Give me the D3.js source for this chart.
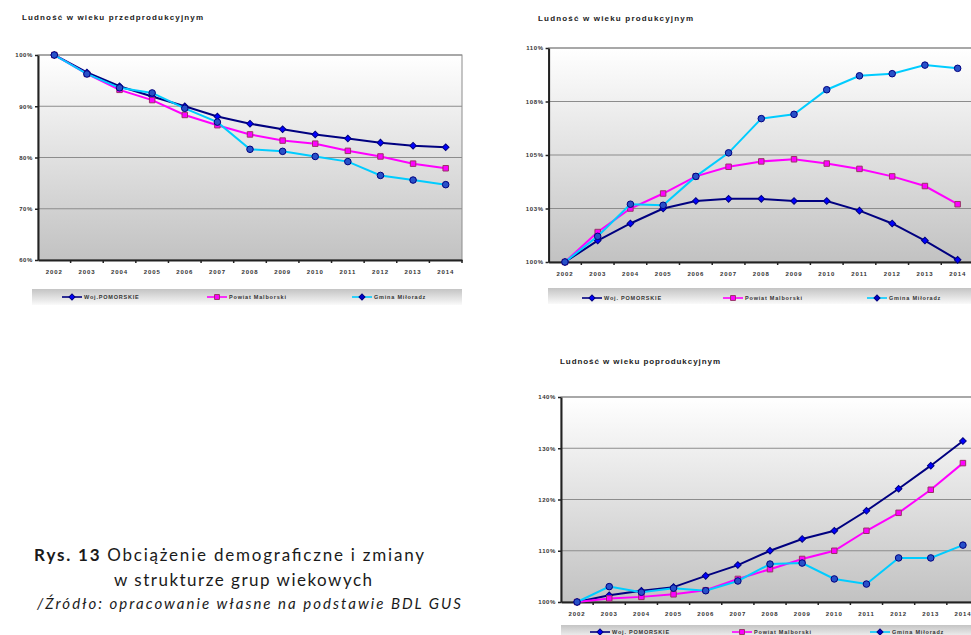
<!DOCTYPE html>
<html>
<head>
<meta charset="utf-8">
<script src="https://cdn.jsdelivr.net/npm/d3@7"></script>
<style>
  body { margin: 0; background: #fff; }
  svg { display: block; }
</style>
</head>
<body>
<svg></svg>
<script>
// categories
const years = ["2002", "2003", "2004", "2005", "2006", "2007", "2008", "2009", "2010", "2011", "2012", "2013", "2014"];
const legendNamesA = ["Woj.POMORSKIE", "Powiat Malborski", "Gmina Miłoradz"];
const legendNamesB = ["Woj. POMORSKIE", "Powiat Malborski", "Gmina Miłoradz"];

// Ludność w wieku przedprodukcyjnym (2002 = 100%)
const przedWoj = [100, 96.6, 93.9, 91.9, 90.0, 88.0, 86.6, 85.5, 84.5, 83.7, 82.9, 82.3, 82.0];
const przedPowiat = [100, 96.3, 93.2, 91.2, 88.3, 86.3, 84.5, 83.3, 82.7, 81.3, 80.2, 78.8, 77.9];
const przedGmina = [100, 96.3, 93.6, 92.6, 89.6, 86.9, 81.6, 81.2, 80.2, 79.2, 76.5, 75.6, 74.7];
const przedTicks = [60, 70, 80, 90, 100];

// Ludność w wieku produkcyjnym
const prodWoj = [100, 101.0, 101.8, 102.5, 102.85, 102.95, 102.95, 102.85, 102.85, 102.4, 101.8, 101.0, 100.1];
const prodPowiat = [100, 101.4, 102.5, 103.2, 104.0, 104.45, 104.7, 104.8, 104.6, 104.35, 104.0, 103.55, 102.7];
const prodGmina = [100, 101.2, 102.7, 102.65, 104.0, 105.1, 106.7, 106.9, 108.05, 108.7, 108.8, 109.2, 109.05];
const prodTicks = [100, 102.5, 105, 107.5, 110];

// Ludność w wieku poprodukcyjnym
const poprodWoj = [100, 101.3, 102.2, 102.9, 105.1, 107.2, 110.0, 112.3, 113.9, 117.8, 122.1, 126.6, 131.4];
const poprodPowiat = [100, 100.7, 101.0, 101.5, 102.3, 104.5, 106.4, 108.4, 110.0, 113.9, 117.4, 121.9, 127.1];
const poprodGmina = [100, 103.0, 101.9, 102.7, 102.2, 104.1, 107.4, 107.6, 104.5, 103.5, 108.6, 108.6, 111.1];
const poprodTicks = [100, 110, 120, 130, 140];

const width = 971;
const height = 635;
const svg = d3.select("svg").attr("width", width).attr("height", height);

const defs = svg.append("defs");
const plotGrad = defs.append("linearGradient")
  .attr("id", "plotGrad").attr("x1", 0).attr("y1", 0).attr("x2", 0).attr("y2", 1);
plotGrad.append("stop").attr("offset", "0%").attr("stop-color", "#ffffff");
plotGrad.append("stop").attr("offset", "100%").attr("stop-color", "#c2c2c2");

const legendGrad = defs.append("linearGradient")
  .attr("id", "legendGrad").attr("x1", 0).attr("y1", 0).attr("x2", 0).attr("y2", 1);
legendGrad.append("stop").attr("offset", "0%").attr("stop-color", "#c4c4c4");
legendGrad.append("stop").attr("offset", "100%").attr("stop-color", "#fafafa");

// Woj uses a square turned 45deg (Excel style diamond)
const styles = [
  { line: "#000080", fill: "#0000ff", stroke: "#000080", symbol: d3.symbolSquare, size: 22, rot: 45 },
  { line: "#ff00ff", fill: "#ff00ff", stroke: "#993366", symbol: d3.symbolSquare, size: 30, rot: 0 },
  { line: "#00ccff", fill: "#2850c8", stroke: "#000080", symbol: d3.symbolCircle, size: 34, rot: 0 }
];

const smallFont = "'Liberation Sans', Arial, sans-serif";

const drawChart = (opt) => {
  const g = svg.append("g");

  g.append("text")
    .attr("x", opt.titleX).attr("y", opt.titleY)
    .attr("font-family", smallFont).attr("font-size", 8).attr("font-weight", "bold")
    .attr("fill", "#222")
    .attr("textLength", opt.titleLen).attr("lengthAdjust", "spacing")
    .text(opt.title);

  const x = d3.scaleBand().domain(years).range([opt.x0, opt.x1]).padding(0);
  const y = d3.scaleLinear().domain([opt.ticks[0], opt.ticks[opt.ticks.length - 1]]).range([opt.y1, opt.y0]);
  const cx = (d) => x(d) + x.bandwidth() / 2;

  g.append("rect")
    .attr("x", opt.x0).attr("y", opt.y0)
    .attr("width", opt.x1 - opt.x0).attr("height", opt.y1 - opt.y0)
    .attr("fill", "url(#plotGrad)")
    .attr("stroke", "#8c8c8c").attr("stroke-width", 1);

  g.selectAll(".grid")
    .data(opt.ticks)
    .enter()
    .append("line")
    .attr("x1", opt.x0).attr("x2", opt.x1)
    .attr("y1", (d) => y(d)).attr("y2", (d) => y(d))
    .attr("stroke", "#8c8c8c").attr("stroke-width", 1.2);

  const yAxis = d3.axisLeft(y)
    .tickValues(opt.ticks)
    .tickSizeInner(3).tickSizeOuter(0)
    .tickFormat((d) => Math.round(d) + "%");
  const yg = g.append("g").attr("transform", `translate(${opt.x0}, 0)`).call(yAxis);
  yg.select(".domain").attr("stroke", "#222").attr("stroke-width", 2);
  yg.selectAll(".tick line").attr("stroke", "#222").attr("stroke-width", 1.5);
  yg.selectAll(".tick text")
    .attr("font-family", smallFont).attr("font-size", 6).attr("font-weight", "bold")
    .attr("letter-spacing", 0.6).attr("fill", "#333").attr("x", -5);

  const xAxis = d3.axisBottom(x).tickSize(0).tickSizeOuter(0);
  const xg = g.append("g").attr("transform", `translate(0, ${opt.y1})`).call(xAxis);
  xg.select(".domain").attr("stroke", "#222").attr("stroke-width", 2);
  xg.selectAll(".tick text")
    .attr("font-family", smallFont).attr("font-size", 6).attr("font-weight", "bold")
    .attr("letter-spacing", 0.9).attr("fill", "#333").attr("dy", "0").attr("y", 14);

  g.selectAll(".xtick")
    .data(years.slice(1).concat(["end"]))
    .enter()
    .append("line")
    .attr("x1", (d) => (d === "end" ? opt.x1 : x(d)))
    .attr("x2", (d) => (d === "end" ? opt.x1 : x(d)))
    .attr("y1", opt.y1).attr("y2", opt.y1 + 3)
    .attr("stroke", "#222").attr("stroke-width", 1.5);

  const line = d3.line().x((d, i) => cx(years[i])).y((d) => y(d));

  opt.series.forEach((values, s) => {
    const st = styles[s];
    g.append("path")
      .datum(values)
      .attr("d", line)
      .attr("fill", "none")
      .attr("stroke", st.line)
      .attr("stroke-width", 2);

    g.selectAll(".m" + s)
      .data(values)
      .enter()
      .append("path")
      .attr("d", d3.symbol().type(st.symbol).size(st.size))
      .attr("transform", (d, i) => `translate(${cx(years[i])}, ${y(d)}) rotate(${st.rot})`)
      .attr("fill", st.fill)
      .attr("stroke", st.stroke)
      .attr("stroke-width", 1);
  });

  // legend
  g.append("rect")
    .attr("x", opt.legX0).attr("y", opt.legY0)
    .attr("width", opt.legX1 - opt.legX0).attr("height", opt.legH)
    .attr("fill", "url(#legendGrad)");

  opt.legendNames.forEach((name, s) => {
    const st = styles[s];
    const lx = opt.legPos[s];
    const ly = opt.legY;
    g.append("line")
      .attr("x1", lx).attr("x2", lx + 20)
      .attr("y1", ly).attr("y2", ly)
      .attr("stroke", st.line).attr("stroke-width", 1.6);
    const legRot = s === 1 ? 0 : 45;
    g.append("path")
      .attr("d", d3.symbol().type(d3.symbolSquare).size(s === 1 ? 24 : 18))
      .attr("transform", `translate(${lx + 10}, ${ly}) rotate(${legRot})`)
      .attr("fill", s === 2 ? "#0000cc" : st.fill)
      .attr("stroke", st.stroke).attr("stroke-width", 1);
    g.append("text")
      .attr("x", lx + 22).attr("y", ly + 2)
      .attr("font-family", smallFont).attr("font-size", 5.5).attr("font-weight", "bold")
      .attr("letter-spacing", 0.8).attr("fill", "#333")
      .text(name);
  });
};

drawChart({
  title: "Ludność w wieku przedprodukcyjnym", titleX: 22, titleY: 20, titleLen: 181,
  x0: 38, x1: 462, y0: 55, y1: 260, ticks: przedTicks,
  series: [przedWoj, przedPowiat, przedGmina],
  legendNames: legendNamesA,
  legX0: 32, legX1: 462, legY0: 289, legH: 16, legY: 297,
  legPos: [62, 207, 352]
});

drawChart({
  title: "Ludność w wieku produkcyjnym", titleX: 538, titleY: 21, titleLen: 155,
  x0: 548.6, x1: 974, y0: 48, y1: 262, ticks: prodTicks,
  series: [prodWoj, prodPowiat, prodGmina],
  legendNames: legendNamesB,
  legX0: 548, legX1: 971, legY0: 288, legH: 16, legY: 298,
  legPos: [582, 723, 867]
});

drawChart({
  title: "Ludność w wieku poprodukcyjnym", titleX: 560, titleY: 364, titleLen: 160,
  x0: 561, x1: 979, y0: 397, y1: 602, ticks: poprodTicks,
  series: [poprodWoj, poprodPowiat, poprodGmina],
  legendNames: legendNamesB,
  legX0: 561, legX1: 971, legY0: 625, legH: 14, legY: 632,
  legPos: [590, 732, 870]
});

// caption
const capFont = "Lato, 'Open Sans', sans-serif";
const cap1 = svg.append("text")
  .attr("x", 34).attr("y", 561)
  .attr("font-family", capFont).attr("font-size", 17).attr("fill", "#1a1a1a")
  .attr("textLength", 390).attr("lengthAdjust", "spacing");
cap1.append("tspan").attr("font-weight", "bold").text("Rys.  13 ");
cap1.append("tspan").text(" Obciążenie demograficzne  i zmiany");

svg.append("text")
  .attr("x", 114).attr("y", 586)
  .attr("font-family", capFont).attr("font-size", 17).attr("fill", "#1a1a1a")
  .attr("textLength", 258).attr("lengthAdjust", "spacing")
  .text("w strukturze grup wiekowych");

svg.append("text")
  .attr("x", 37).attr("y", 609)
  .attr("font-family", capFont).attr("font-size", 15).attr("font-style", "italic").attr("fill", "#1a1a1a")
  .attr("textLength", 424).attr("lengthAdjust", "spacing")
  .text("/Źródło:  opracowanie własne na podstawie BDL GUS");
</script>
</body>
</html>
